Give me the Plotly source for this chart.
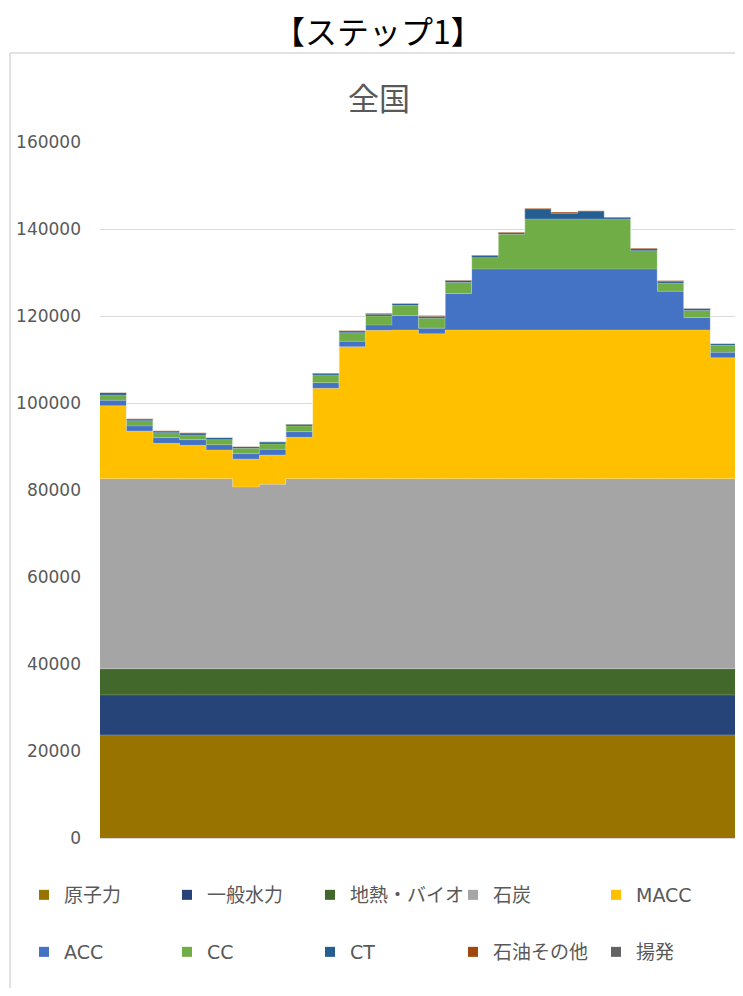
import plotly.graph_objects as go

hours = list(range(1, 25))
series_names = ["原子力", "一般水力", "地熱・バイオ", "石炭", "MACC", "ACC", "CC", "CT", "石油その他", "揚発"]
colors = ["#997300", "#264478", "#43682B", "#A5A5A5", "#FFC000", "#4472C4", "#70AD47", "#255E91", "#9E480E", "#636363"]

nuclear = [23700] * 24
hydro = [9200] * 24
geo_bio = [6000] * 24
coal = [43700, 43700, 43700, 43700, 43700, 41800, 42400, 43700, 43700, 43700, 43700, 43700,
        43700, 43700, 43700, 43700, 43700, 43700, 43700, 43700, 43700, 43700, 43700, 43700]
macc = [16780, 10960, 8130, 7670, 6600, 6430, 6750, 9510, 20770, 30350, 34100, 34200,
        33300, 34200, 34200, 34200, 34200, 34200, 34200, 34200, 34200, 34200, 34200, 27800]
acc = [1240, 1150, 1300, 1300, 1220, 1220, 1300, 1300, 1300, 1230, 1230, 3300,
       1310, 8350, 14000, 14000, 14000, 14000, 14000, 14000, 14000, 8900, 2830, 1250]
cc = [1220, 1230, 1150, 1070, 1150, 1230, 1220, 1300, 1770, 1990, 2060, 2290,
      2300, 2530, 2610, 7980, 11500, 11500, 11500, 11500, 4210, 1840, 1610, 1600]
ct = [530, 380, 380, 460, 460, 380, 460, 390, 380, 380, 390, 460,
      370, 460, 460, 370, 2300, 1300, 1840, 390, 460, 460, 460, 370]
oil = [60, 40, 40, 40, 40, 40, 40, 60, 80, 100, 230, 80,
       240, 160, 150, 160, 150, 310, 40, 80, 160, 140, 90, 60]
pumped = [0] * 24

values = [nuclear, hydro, geo_bio, coal, macc, acc, cc, ct, oil, pumped]

y_ticks = [0, 20000, 40000, 60000, 80000, 100000, 120000, 140000, 160000]

# page body has an 8px default margin; work in reference page coordinates
OFF = 8
W, H = 735, 980
L = 100 - OFF
T = 142 - OFF
R = W - (737 - OFF)
B = H - (838 - OFF)
pw, ph = W - L - R, H - T - B

def px_x(p):
    return (p - OFF - L) / pw

def px_y(p):
    return (H - B - (p - OFF)) / ph

fig = go.Figure()
x_edges = [h - 1 for h in hours] + [hours[-1]]
for name, col, vals in zip(series_names, colors, values):
    fig.add_trace(go.Scatter(
        x=x_edges, y=list(vals) + [vals[-1]],
        mode="lines", line=dict(shape="hv", width=0.6, color="rgba(255,255,255,0.35)"),
        fillcolor=col, stackgroup="one", name=name, showlegend=False,
        hoverinfo="skip",
    ))

for i, (name, col) in enumerate(zip(series_names, colors)):
    fig.add_trace(go.Scatter(
        x=[None], y=[None], mode="markers",
        marker=dict(symbol="square", size=10, color=col),
        name=name, legend="legend" if i < 5 else "legend2",
    ))

font_family = "DejaVu Sans, Noto Sans CJK JP, sans-serif"
legend_common = dict(
    orientation="h", xanchor="left", yanchor="middle", traceorder="normal",
    font=dict(family=font_family, size=19, color="#595959"),
    entrywidth=98, entrywidthmode="pixels", itemwidth=30,
    bgcolor="rgba(0,0,0,0)", borderwidth=0,
)

fig.update_layout(
    width=W, height=H,
    margin=dict(l=L, r=R, t=T, b=B, autoexpand=False),
    paper_bgcolor="white", plot_bgcolor="white",
    showlegend=True,
    legend=dict(x=px_x(24), y=px_y(895), **legend_common),
    legend2=dict(x=px_x(24), y=px_y(952), **legend_common),
    xaxis=dict(range=[0, 24], showticklabels=False, showgrid=False, zeroline=False,
               showline=True, linecolor="#D9D9D9", linewidth=1, ticks=""),
    yaxis=dict(range=[0, 160000], tickvals=y_ticks, ticktext=[str(v) for v in y_ticks],
               showgrid=True, gridcolor="#D9D9D9", gridwidth=1, zeroline=False,
               showline=False, ticks="", ticklabelstandoff=18,
               tickfont=dict(family=font_family, size=17, color="#595959")),
    font=dict(family=font_family),
    shapes=[
        dict(type="line", xref="paper", yref="paper", x0=px_x(10), x1=px_x(10), y0=px_y(53), y1=px_y(996),
             line=dict(color="#D9D9D9", width=1.5)),
        dict(type="line", xref="paper", yref="paper", x0=px_x(10), x1=px_x(760), y0=px_y(53), y1=px_y(53),
             line=dict(color="#D9D9D9", width=1.5)),
    ],
    annotations=[
        dict(text="【ステップ1】", xref="paper", yref="paper", x=px_x(378), y=px_y(30),
             xanchor="center", yanchor="middle", showarrow=False,
             font=dict(family="Noto Sans CJK JP", size=32, color="#000000")),
        dict(text="全国", xref="paper", yref="paper", x=px_x(378.5), y=px_y(97),
             xanchor="center", yanchor="middle", showarrow=False,
             font=dict(family="Noto Sans CJK JP", size=31, color="#595959")),
    ],
)

fig.write_html("out.html")
